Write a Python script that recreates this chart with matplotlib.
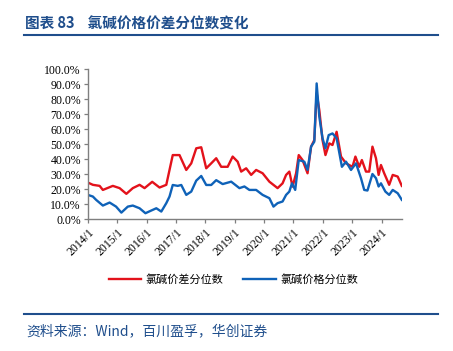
import matplotlib.pyplot as plt
from matplotlib.lines import Line2D

plt.rcParams['font.family'] = ['Noto Sans CJK SC', 'DejaVu Sans']

# 价差分位数 (red), x in decimal years after 2014/1
spread_t = [0.00, 0.17, 0.40, 0.51, 0.85, 1.08, 1.31, 1.53, 1.76, 1.93, 2.19, 2.44, 2.67,
            2.89, 3.12, 3.35, 3.52, 3.69, 3.86, 4.03, 4.20, 4.37, 4.54, 4.76, 4.93, 5.10,
            5.22, 5.39, 5.56, 5.73, 5.95, 6.18, 6.46, 6.63, 6.75, 6.86, 6.97, 7.09, 7.18,
            7.31, 7.48, 7.60, 7.71, 7.79, 7.88, 7.99, 8.09, 8.22, 8.33, 8.47, 8.62, 8.79,
            9.01, 9.11, 9.24, 9.33, 9.47, 9.58, 9.69, 9.81, 9.90, 9.98, 10.09, 10.26,
            10.38, 10.55, 10.69]
spread = [24.5, 23.0, 22.3, 19.6, 22.3, 20.8, 17.0, 20.8, 23.0, 20.8, 25.0, 21.2, 23.0,
          42.8, 42.8, 32.9, 37.3, 47.3, 48.0, 34.0, 37.3, 40.7, 35.0, 35.0, 41.8, 38.4,
          31.8, 34.0, 29.6, 32.9, 30.7, 25.1, 20.8, 24.0, 29.6, 31.8, 21.8, 30.7, 42.8,
          39.5, 30.7, 48.4, 52.8, 84.0, 72.8, 52.8, 42.8, 50.6, 49.5, 58.3, 41.8, 37.3,
          35.0, 41.8, 35.0, 39.5, 31.8, 31.8, 48.4, 40.7, 29.6, 36.2, 30.7, 23.0,
          29.6, 28.5, 22.3]

# 价格分位数 (blue)
price_t = [0.00, 0.17, 0.28, 0.51, 0.74, 0.96, 1.14, 1.36, 1.53, 1.76, 1.96, 2.16, 2.33,
           2.50, 2.67, 2.78, 2.89, 3.06, 3.18, 3.35, 3.52, 3.69, 3.86, 4.03, 4.20, 4.37,
           4.59, 4.88, 5.16, 5.33, 5.50, 5.73, 5.95, 6.18, 6.32, 6.46, 6.63, 6.75, 6.86,
           6.95, 7.06, 7.18, 7.37, 7.48, 7.60, 7.71, 7.79, 7.88, 7.99, 8.09, 8.20, 8.33,
           8.47, 8.65, 8.79, 8.96, 9.13, 9.30, 9.41, 9.52, 9.69, 9.81, 9.90, 9.98,
           10.13, 10.26, 10.38, 10.55, 10.69]
price = [16.3, 15.2, 13.0, 9.2, 11.2, 8.5, 4.5, 8.5, 9.2, 7.4, 4.1, 5.9, 7.4,
         5.2, 10.8, 15.2, 22.9, 22.3, 22.9, 16.3, 18.5, 25.8, 28.9, 22.9, 22.9, 26.1,
         23.5, 25.1, 20.8, 21.9, 19.6, 19.6, 16.3, 14.1, 8.5, 10.8, 11.9, 16.3, 18.5,
         24.0, 19.6, 39.5, 38.4, 32.9, 48.4, 51.7, 90.5, 68.4, 54.0, 47.3, 56.1, 57.2,
         54.0, 35.0, 38.4, 32.9, 37.3, 27.4, 19.6, 19.2, 30.2, 27.4, 21.9, 24.0,
         18.5, 16.3, 19.6, 17.4, 13.0]

years = list(range(2014, 2025))
labels = [f'{y}/1' for y in years]

fig = plt.figure(figsize=(4.53, 3.51), dpi=100)
navy = '#1f4e8c'

# header and footer
fig.text(0.055, 0.934, '图表 83    氯碱价格价差分位数变化', fontsize=10.5, fontweight='bold',
         color=navy, va='center', ha='left')
fig.add_artist(Line2D([0.053, 0.967], [0.900, 0.900], color=navy, lw=1.5))
fig.add_artist(Line2D([0.053, 0.967], [0.105, 0.105], color=navy, lw=1.5))
fig.text(0.058, 0.055, '资料来源：Wind，百川盈孚，华创证券', fontsize=10, style='italic',
         color=navy, va='center', ha='left')

ax = fig.add_axes([0.194, 0.375, 0.693, 0.428])
ax.plot(spread_t, spread, color='#e3121b', lw=1.7, label='氯碱价差分位数')
ax.plot(price_t, price, color='#0f62b8', lw=1.7, label='氯碱价格分位数')

ax.set_xlim(0, 10.69)
ax.set_ylim(0, 100)
ax.set_yticks(range(0, 101, 10))
ax.set_yticklabels([f'{v:.1f}%' for v in range(0, 101, 10)],
                   fontfamily='Liberation Serif', fontsize=8.5)
ax.set_xticks([y - 2014 for y in years])
ax.set_xticklabels(labels, rotation=45, ha='right', rotation_mode='anchor',
                   fontfamily='Liberation Serif', fontsize=8.5)
for s in ['top', 'right']:
    ax.spines[s].set_visible(False)
for s in ['left', 'bottom']:
    ax.spines[s].set_color('#7f7f7f')
    ax.spines[s].set_linewidth(1.0)
ax.tick_params(axis='both', color='#7f7f7f', length=3, width=0.9, pad=2)

fig.legend(loc='center', bbox_to_anchor=(0.515, 0.205), ncol=2, frameon=False,
           fontsize=8, handlelength=2.9, handletextpad=0.4, columnspacing=1.8)

fig.savefig('out.png', dpi=100)
